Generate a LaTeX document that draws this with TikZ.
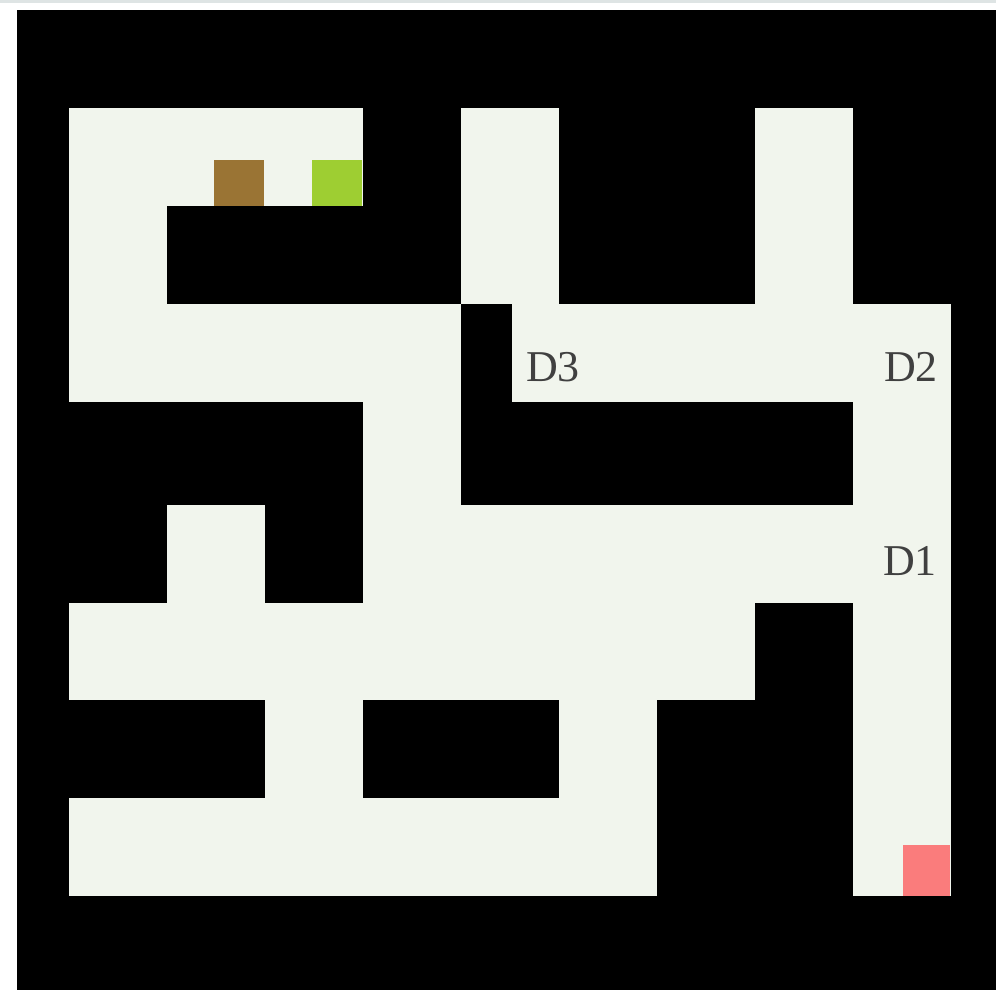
\documentclass[tikz,border=0pt]{standalone}
\usepackage{fontspec}
\setmainfont{Liberation Serif}

\definecolor{floorc}{RGB}{241,245,237}
\definecolor{edgec}{RGB}{222,228,228}
\definecolor{keyc}{RGB}{154,116,52}
\definecolor{doorc}{RGB}{158,206,50}
\definecolor{goalc}{RGB}{250,124,124}
\definecolor{inkc}{RGB}{64,64,64}

\begin{document}
\begin{tikzpicture}[
  x=1pt, y=-1pt,
  wall/.style  = {fill=black},
  floor/.style = {fill=floorc},
  mark/.style  = {},
  item/.style  = {inner sep=0pt, outer sep=0pt, minimum width=50pt, minimum height=46pt},
  tag/.style   = {text=inkc, inner sep=0pt, font=\fontsize{44}{44}\selectfont},
]
  \useasboundingbox (0,0) rectangle (996,990);
  \fill[white] (0,0) rectangle (996,990);
  \fill[edgec] (0,0) rectangle (996,3);
  \fill[wall] (17,10) rectangle (996,990);

  % open floor, row by row
  \fill[floor] (69,108) rectangle (363,206);
  \fill[floor] (461,108) rectangle (559,304);
  \fill[floor] (755,108) rectangle (853,304);
  \fill[floor] (69,206) rectangle (167,304);
  \fill[floor] (69,304) rectangle (461,402);
  \fill[floor] (512,304) rectangle (951,402);
  \fill[floor] (363,402) rectangle (461,505);
  \fill[floor] (853,402) rectangle (951,505);
  \fill[floor] (167,505) rectangle (265,603);
  \fill[floor] (363,505) rectangle (951,603);
  \fill[floor] (69,603) rectangle (755,700);
  \fill[floor] (853,603) rectangle (951,896);
  \fill[floor] (265,700) rectangle (363,798);
  \fill[floor] (559,700) rectangle (657,798);
  \fill[floor] (69,798) rectangle (657,896);

  \node[item, fill=keyc] (key) at (238.5,183) {};
  \node[item, fill=doorc] (door) at (336.5,183) {};
  \node[item, fill=goalc, minimum width=47pt, minimum height=51pt] (goal) at (926.5,870.5) {};

  \node[tag] (d3) at (553,367) {D3};
  \node[tag] (d2) at (911,367) {D2};
  \node[tag] (d1) at (910,561) {D1};
\end{tikzpicture}
\end{document}
